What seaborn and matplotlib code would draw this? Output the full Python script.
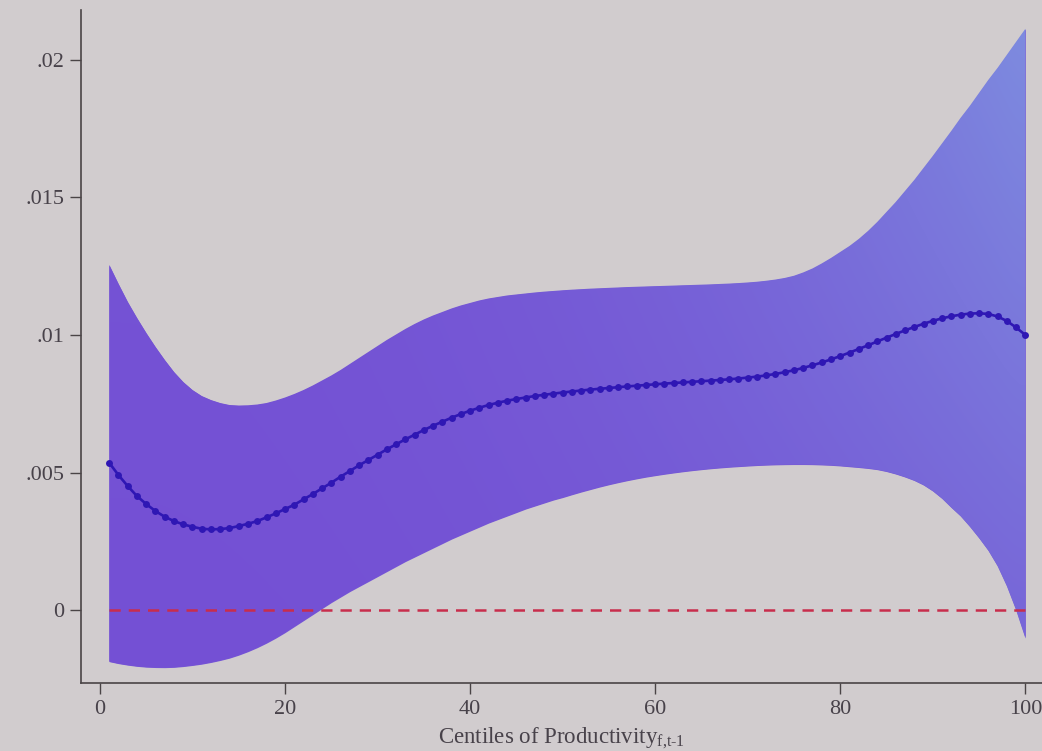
import numpy as np
import pandas as pd
import matplotlib
matplotlib.use("Agg")
import matplotlib.pyplot as plt
import seaborn as sns

# Centiles of lagged productivity
centiles = list(range(1, 101))

# Point estimates (x 1e-3)
estimate = [
    5.356, 4.909, 4.509, 4.145, 3.855, 3.600, 3.393, 3.236, 3.116, 3.029,
    2.956, 2.935, 2.945, 2.982, 3.055, 3.138, 3.236, 3.371, 3.516, 3.673,
    3.829, 4.025, 4.218, 4.425, 4.629, 4.847, 5.055, 5.262, 5.455, 5.647,
    5.844, 6.025, 6.207, 6.375, 6.545, 6.702, 6.847, 6.993, 7.127, 7.247,
    7.356, 7.455, 7.538, 7.611, 7.673, 7.727, 7.782, 7.825, 7.869, 7.909,
    7.945, 7.982, 8.015, 8.044, 8.073, 8.102, 8.131, 8.156, 8.182, 8.207,
    8.233, 8.255, 8.276, 8.298, 8.320, 8.342, 8.364, 8.389, 8.418, 8.451,
    8.487, 8.531, 8.585, 8.647, 8.720, 8.804, 8.898, 9.000, 9.113, 9.233,
    9.360, 9.491, 9.625, 9.764, 9.902, 10.036, 10.167, 10.291, 10.407, 10.513,
    10.604, 10.680, 10.738, 10.778, 10.789, 10.764, 10.673, 10.509, 10.273, 10.000,
]

# Upper confidence bound (x 1e-3)
upper = [
    12.545, 11.855, 11.200, 10.618, 10.073, 9.564, 9.091, 8.655, 8.291, 8.000,
    7.782, 7.636, 7.527, 7.455, 7.436, 7.444, 7.473, 7.527, 7.618, 7.727,
    7.855, 8.000, 8.164, 8.345, 8.527, 8.727, 8.945, 9.164, 9.382, 9.600,
    9.818, 10.018, 10.218, 10.400, 10.564, 10.709, 10.836, 10.964, 11.073, 11.164,
    11.255, 11.327, 11.382, 11.436, 11.473, 11.509, 11.545, 11.575, 11.600, 11.625,
    11.647, 11.665, 11.684, 11.698, 11.713, 11.727, 11.742, 11.753, 11.764, 11.775,
    11.785, 11.796, 11.807, 11.818, 11.829, 11.840, 11.855, 11.869, 11.887, 11.909,
    11.935, 11.971, 12.015, 12.073, 12.153, 12.273, 12.418, 12.600, 12.800, 13.018,
    13.236, 13.491, 13.782, 14.109, 14.473, 14.836, 15.236, 15.636, 16.073, 16.509,
    16.964, 17.418, 17.891, 18.327, 18.800, 19.273, 19.709, 20.182, 20.655, 21.127,
]

# Lower confidence bound (x 1e-3)
lower = [
    -1.873, -1.945, -2.000, -2.044, -2.073, -2.087, -2.091, -2.080, -2.051, -2.011,
    -1.964, -1.902, -1.829, -1.745, -1.636, -1.509, -1.364, -1.200, -1.018, -0.818,
    -0.600, -0.382, -0.164, 0.055, 0.273, 0.473, 0.673, 0.855, 1.036, 1.218,
    1.400, 1.582, 1.764, 1.927, 2.091, 2.255, 2.418, 2.582, 2.727, 2.873,
    3.018, 3.164, 3.291, 3.418, 3.545, 3.673, 3.782, 3.891, 4.000, 4.091,
    4.193, 4.291, 4.382, 4.473, 4.556, 4.633, 4.705, 4.771, 4.833, 4.887,
    4.938, 4.985, 5.029, 5.069, 5.105, 5.138, 5.167, 5.193, 5.215, 5.236,
    5.255, 5.269, 5.280, 5.287, 5.291, 5.291, 5.287, 5.276, 5.262, 5.240,
    5.211, 5.182, 5.149, 5.105, 5.036, 4.945, 4.836, 4.709, 4.545, 4.327,
    4.055, 3.727, 3.418, 3.036, 2.618, 2.164, 1.600, 0.873, 0.000, -1.018,
]

x_ticks = [0, 20, 40, 60, 80, 100]
y_ticks = [0, 0.005, 0.01, 0.015, 0.02]
y_tick_labels = ["0", ".005", ".01", ".015", ".02"]
x_label = r"Centiles of Productivity$_{\mathrm{f{,}t\text{-}1}}$"

df = pd.DataFrame({
    "centile": centiles,
    "estimate": np.array(estimate) * 1e-3,
    "upper": np.array(upper) * 1e-3,
    "lower": np.array(lower) * 1e-3,
})
df["zero"] = 0.0

sns.set_theme(style="ticks")
bg = "#d1ccce"
plt.rcParams.update({
    "font.family": ["Liberation Serif", "DejaVu Serif"],
    "mathtext.fontset": "custom",
    "mathtext.rm": "Liberation Serif",
    "mathtext.it": "Liberation Serif:italic",
    "figure.facecolor": bg,
    "axes.facecolor": bg,
})

fig = plt.figure(figsize=(10.42, 7.51), dpi=100)
ax = fig.add_axes([0.0777, 0.0905, 1.0 - 0.0777, 0.987 - 0.0905])

# Confidence band, shaded with a soft purple-to-blue gradient
band = ax.fill_between(df["centile"], df["lower"], df["upper"],
                       color="#7657d6", linewidth=0, zorder=1)
grad = np.zeros((60, 60, 3))
c_low = np.array([0x74, 0x50, 0xd4]) / 255.0
c_high = np.array([0x80, 0x9a, 0xe2]) / 255.0
gx, gy = np.meshgrid(np.linspace(0, 1, 60), np.linspace(0, 1, 60))
w = np.clip(0.75 * gx ** 2.2 * (0.35 + 0.65 * gy) + 0.05 * gy, 0, 1)
for k in range(3):
    grad[..., k] = c_low[k] * (1 - w) + c_high[k] * w
img = ax.imshow(grad, extent=[1, 100, -0.0025, 0.0215], origin="lower",
                aspect="auto", zorder=1.5, interpolation="bicubic")
img.set_clip_path(band.get_paths()[0], transform=ax.transData)

# Reference line at zero
sns.lineplot(data=df, x="centile", y="zero", ax=ax, color="#c82d4c",
             linewidth=1.8, linestyle=(0, (4.5, 3.2)), zorder=2)

# Point estimates with markers at each centile
sns.lineplot(data=df, x="centile", y="estimate", ax=ax, color="#2f17b4",
             linewidth=1.9, marker="o", markersize=5.0,
             markeredgewidth=0, zorder=3)

ax.set_xlim(-2.05, 101.8)
ax.set_ylim(-0.00265, 0.02182)
ax.set_xticks(x_ticks)
ax.set_xticklabels([str(t) for t in x_ticks])
ax.set_yticks(y_ticks)
ax.set_yticklabels(y_tick_labels)
ax.tick_params(axis="both", direction="out", length=8, width=1.0,
               color="#4a4446", labelsize=16, labelcolor="#48424a", pad=4)

for side in ["top", "right"]:
    ax.spines[side].set_visible(False)
for side in ["left", "bottom"]:
    ax.spines[side].set_color("#4a4446")
    ax.spines[side].set_linewidth(1.2)

ax.set_ylabel("")
ax.set_xlabel(x_label, fontsize=16.5, color="#48424a", labelpad=5)

fig.savefig("out.png", dpi=100, facecolor=bg)
